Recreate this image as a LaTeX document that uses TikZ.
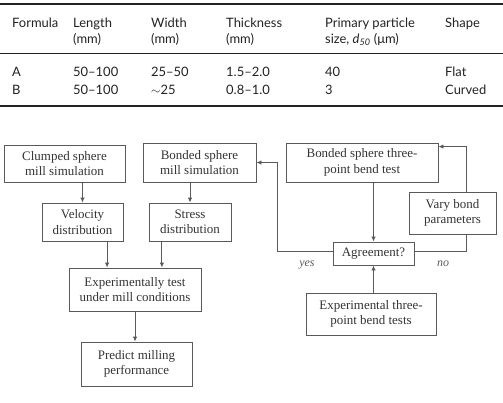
\documentclass[tikz,border=0pt]{standalone}
\usepackage{fontspec}
\setmainfont{Liberation Serif}
\newfontfamily\tabfont{Lato}
\usetikzlibrary{arrows.meta}
\definecolor{boxline}{HTML}{5A5A5A}
\definecolor{boxtext}{HTML}{333333}
\definecolor{tabtext}{HTML}{222222}
\tikzset{
  flowbox/.style={draw=boxline,line width=0.9bp,inner sep=0pt,align=center,
    text=boxtext,font=\fontsize{13}{15.5}\selectfont},
  flowarr/.style={draw=boxline,line width=0.9bp,-{Latex[length=5bp,width=4.5bp]}},
  tabcell/.style={anchor=base west,inner sep=0pt,text=tabtext,font=\tabfont\fontsize{13}{15.5}\selectfont},
  answer/.style={inner sep=0pt,text=boxline,font=\itshape\fontsize{12}{14}\selectfont}
}
\begin{document}
\begin{tikzpicture}[x=1bp,y=-1bp]
  \useasboundingbox (0,0) rectangle (503,402);
  \draw[line width=1.6bp,tabtext] (0,4) -- (503,4);
  \draw[line width=0.8bp,tabtext] (0,53.5) -- (503,53.5);
  \draw[line width=1.6bp,tabtext] (0,106) -- (503,106);
  \node[tabcell] (hformula) at (12,27) {Formula};
  \node[tabcell] (hlength) at (73,27) {Length};
  \node[tabcell] (hlengthu) at (73,43) {(mm)};
  \node[tabcell] (hwidth) at (151,27) {Width};
  \node[tabcell] (hwidthu) at (151,43) {(mm)};
  \node[tabcell] (hthick) at (226,27) {Thickness};
  \node[tabcell] (hthicku) at (226,43) {(mm)};
  \node[tabcell] (hsize) at (325,27) {Primary particle};
  \node[tabcell] (hsizeu) at (325,43) {size, \textit{d}\textsubscript{\textit{50}} (μm)};
  \node[tabcell] (hshape) at (445,27) {Shape};
  \node[tabcell] (aformula) at (12,76.5) {A};
  \node[tabcell] (alength) at (73,76.5) {50–100};
  \node[tabcell] (awidth) at (151,76.5) {25–50};
  \node[tabcell] (athick) at (226,76.5) {1.5–2.0};
  \node[tabcell] (asize) at (325,76.5) {40};
  \node[tabcell] (ashape) at (445,76.5) {Flat};
  \node[tabcell] (bformula) at (12,94) {B};
  \node[tabcell] (blength) at (73,94) {50–100};
  \node[tabcell] (bwidth) at (151,94) {$\sim$25};
  \node[tabcell] (bthick) at (226,94) {0.8–1.0};
  \node[tabcell] (bsize) at (325,94) {3};
  \node[tabcell] (bshape) at (445,94) {Curved};

  \node[flowbox,minimum width=121bp,minimum height=37bp] (clump) at (64.5,163.5) {Clumped sphere\\mill simulation};
  \node[flowbox,minimum width=81bp,minimum height=38bp] (velocity) at (82.5,222) {Velocity\\distribution};
  \node[flowbox,minimum width=113bp,minimum height=39bp] (bondsim) at (199.5,162.5) {Bonded sphere\\mill simulation};
  \node[flowbox,minimum width=82bp,minimum height=38bp] (stress) at (190,222) {Stress\\distribution};
  \node[flowbox,minimum width=132bp,minimum height=43bp] (exptest) at (135,289.5) {Experimentally test\\under mill conditions};
  \node[flowbox,minimum width=111bp,minimum height=44bp] (predict) at (136.5,364) {Predict milling\\performance};
  \node[flowbox,minimum width=152bp,minimum height=39bp] (bendsim) at (362,162.5) {Bonded sphere three-\\point bend test};
  \node[flowbox,minimum width=87bp,minimum height=42bp] (vary) at (452.5,213) {Vary bond\\parameters};
  \node[flowbox,minimum width=81bp,minimum height=23bp] (agree) at (373.5,253.5) {Agreement?};
  \node[flowbox,minimum width=130bp,minimum height=42bp] (bendexp) at (371,314) {Experimental three-\\point bend tests};
  \node[answer] (yes) at (307,265) {yes};
  \node[answer] (no) at (443,264) {no};

  \draw[flowarr] (velocity.north |- clump.south) -- (velocity.north);
  \draw[flowarr] (stress.north |- bondsim.south) -- (stress.north);
  \draw[flowarr] ([xshift=-28]exptest.north |- velocity.south) -- ([xshift=-28]exptest.north);
  \draw[flowarr] ([xshift=27]exptest.north |- stress.south) -- ([xshift=27]exptest.north);
  \draw[flowarr] (exptest.south) -- (exptest.south |- predict.north);
  \draw[flowarr] (agree.north |- bendsim.south) -- (agree.north);
  \draw[flowarr] (agree.south |- bendexp.north) -- (agree.south);
  \draw[flowarr] ([yshift=2.5]agree.west) -| ([xshift=21]bondsim.east) -- (bondsim.east);
  \draw[boxline,line width=0.9bp] ([yshift=2.5]agree.east) -| ([xshift=13.5]vary.south);
  \draw[flowarr] ([xshift=13.5]vary.north) |- ([yshift=-4]bendsim.north east);
\end{tikzpicture}
\end{document}
